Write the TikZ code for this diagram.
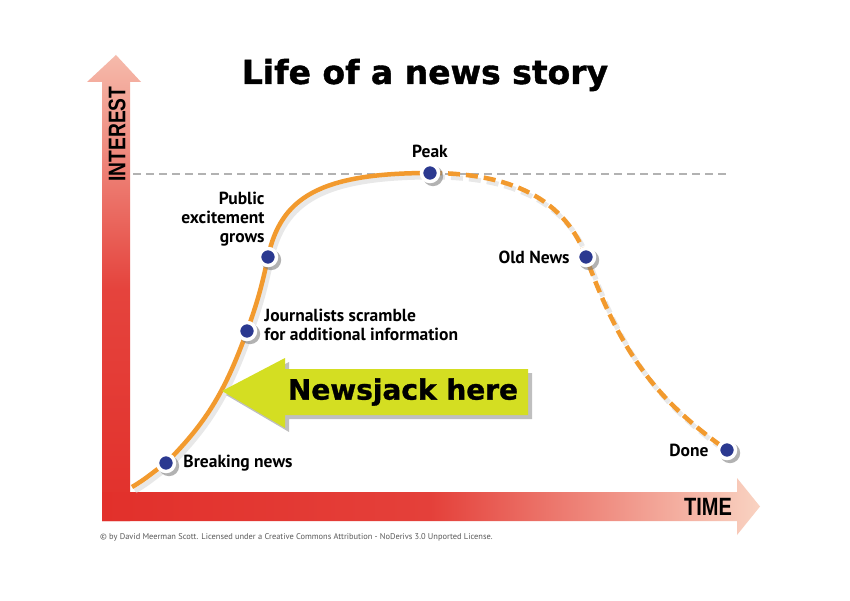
\documentclass[tikz,border=0pt]{standalone}
\usepackage{fontspec}
\setmainfont{PT Sans}
\newfontfamily\titlefont[FakeBold=1.2]{DejaVu Sans}
\newfontfamily\condfont[FakeStretch=0.8]{Liberation Sans}
\usetikzlibrary{positioning,shadows}
\definecolor{axisred}{HTML}{E2302B}
\definecolor{axispale}{HTML}{F9D3C2}
\definecolor{storyorange}{HTML}{F29A2E}
\definecolor{newsblue}{HTML}{2B3990}
\definecolor{jackgreen}{HTML}{D4DE22}

\begin{document}
\begin{tikzpicture}[x=1pt,y=1pt,
  lab/.style={font=\bfseries\fontsize{17.5}{19}\selectfont, inner sep=1pt},
  newsdot/.style={circle, fill=newsblue, draw=white, line width=3.5pt, minimum size=17pt, inner sep=0pt,
    drop shadow={opacity=0.6, shadow xshift=2.5pt, shadow yshift=-2.5pt, shadow scale=1.2}},
  story/.style={draw=storyorange, line width=4.5pt},
  fade/.style={dash pattern=on 12pt off 6pt}]

\useasboundingbox (0,0) rectangle (850,600);
\fill[white] (0,0) rectangle (850,600);

% title
\node[font=\titlefont\bfseries\fontsize{33}{38}\selectfont] (title) at (425,525) {Life of a news story};

% axes
\shade[bottom color=axisred, top color=axispale!85!axisred, middle color=axisred!88!axispale]
  (102,79) -- (130,79) -- (130,518) -- (141,518) -- (116,545) -- (87,518) -- (102,518) -- cycle;
\shade[left color=axisred, right color=axispale, middle color=axisred!90!axispale]
  (102,79) -- (737,79) -- (737,65) -- (760,93.5) -- (737,122) -- (737,108) -- (102,108) -- cycle;
\node[rotate=90, font=\condfont\bfseries\fontsize{24}{24}\selectfont] (interest) at (117,466) {INTEREST};
\node[font=\condfont\bfseries\fontsize{25}{25}\selectfont] (time) at (708,93) {TIME};

% peak level
\draw[gray!60, line width=1.2pt, dash pattern=on 8pt off 5pt] (133,426) -- (728,426);

% points of the story
\coordinate (start) at (132,113);
\coordinate (breaking) at (166,137);
\coordinate (journ) at (247,269);
\coordinate (public) at (268,343);
\coordinate (peak) at (430,427);
\coordinate (old) at (586,343);
\coordinate (done) at (727,150);

% the curve
\begin{scope}[transform canvas={shift={(3pt,-4pt)}}, draw=black!20, line width=5pt, opacity=0.45]
  \draw (start) to[out=30,in=215] (breaking) to[out=45,in=250] (journ) to[out=70,in=258] (public)
    to[out=78,in=180,out looseness=0.85,in looseness=1.55] (peak);
  \draw[fade] (peak) to[out=0,in=110] (old) to[out=-70,in=145] (done);
\end{scope}
\draw[story] (start) to[out=30,in=215] (breaking) to[out=45,in=250] (journ) to[out=70,in=258] (public)
  to[out=78,in=180,out looseness=0.85,in looseness=1.55] (peak);
\draw[story, fade] (peak) to[out=0,in=110] (old) to[out=-70,in=145] (done);

\node[newsdot] (breakingdot) at (breaking) {};
\node[newsdot] (journdot) at (journ) {};
\node[newsdot] (publicdot) at (public) {};
\node[newsdot] (peakdot) at (peak) {};
\node[newsdot] (olddot) at (old) {};
\node[newsdot] (donedot) at (done) {};

% labels
\node[lab, right=6pt of breakingdot] (breakinglab) {Breaking news};
\node[lab, align=left, anchor=west] (journlab) at ([xshift=6pt,yshift=6pt]journdot.east) {Journalists scramble\\for additional information};
\node[lab, align=right, anchor=south east] (publiclab) at ([xshift=5pt,yshift=2pt]publicdot.north west) {Public\\excitement\\grows};
\node[lab, above=4pt of peakdot] (peaklab) {Peak};
\node[lab, left=5pt of olddot] (oldlab) {Old News};
\node[lab, left=7pt of donedot] (donelab) {Done};

% newsjack arrow
\path[fill=jackgreen, drop shadow={opacity=0.5, shadow xshift=4pt, shadow yshift=-4pt}]
  (222,209) -- (285,242) -- (285,231) -- (528,231) -- (528,185) -- (285,185) -- (285,172) -- cycle;
\node[font=\titlefont\bfseries\fontsize{28}{30}\selectfont] (jacklab) at (403,208) {Newsjack here};

% credit
\node[anchor=west, inner sep=0pt, text=black!65, font=\fontsize{8.4}{10}\selectfont] (credit) at (100,63)
  {© by David Meerman Scott. Licensed under a Creative Commons Attribution - NoDerivs 3.0 Unported License.};
\end{tikzpicture}
\end{document}
